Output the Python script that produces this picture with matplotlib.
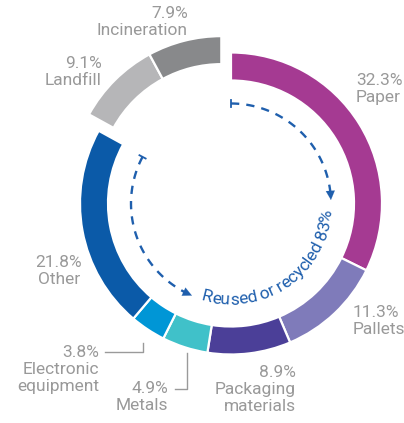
import numpy as np
import matplotlib
matplotlib.use("Agg")
import matplotlib.pyplot as plt

# ---- data ----
categories = ["Paper", "Pallets", "Packaging\nmaterials", "Metals", "Electronic\nequipment",
              "Other", "Landfill", "Incineration"]
values = [32.3, 11.3, 8.9, 4.9, 3.8, 21.8, 9.1, 7.9]
pct_labels = ["32.3%", "11.3%", "8.9%", "4.9%", "3.8%", "21.8%", "9.1%", "7.9%"]
colors = ["#A53A92", "#7F7BBA", "#4B3F98", "#40C1C9", "#0096D6", "#0B5AA8", "#B6B6B8", "#88898B"]
recycled_total = 83
recycled_text = "Reused or recycled 83%"

W, H = 404, 423
fig = plt.figure(figsize=(W / 100, H / 100), dpi=100)
ax = fig.add_axes([0, 0, 1, 1])

FONT = ["Roboto", "DejaVu Sans"]
WEIGHT = "normal"
GRAY = "#999999"
BLUE = "#1F5FAD"

cx, cy = 231, H - 203.5
R_out, ring_w = 151, 28

wedges, _ = ax.pie(values, colors=colors, startangle=90, counterclock=False,
                   center=(cx, cy), radius=R_out,
                   wedgeprops=dict(width=ring_w, edgecolor="white", linewidth=1.6))

# shift the non-recycled group (landfill + incineration) outward together
total = sum(values)
start_grp = 360 * sum(values[:6]) / total
mid_grp = np.deg2rad((start_grp + 360) / 2)   # clockwise from top
d = 19
dx, dy = d * np.sin(mid_grp), d * np.cos(mid_grp)
for w in wedges[6:]:
    w.set_center((cx + dx, cy + dy))

ax.set_xlim(0, W)
ax.set_ylim(0, H)
ax.set_aspect("equal")
ax.axis("off")


def pt(a_deg, r):
    a = np.deg2rad(a_deg)
    return cx + r * np.sin(a), cy + r * np.cos(a)


# ---- dashed arcs ----
r_arc = 100
end_rec = 360 * recycled_total / 100


def dashed_arc(a0, a1):
    a = np.linspace(a0, a1, 120)
    xs, ys = pt(a, r_arc)
    ax.plot(xs[:-3], ys[:-3], color=BLUE, lw=1.7, dashes=(3.5, 3.0), solid_capstyle="butt")
    ax.annotate("", xy=(xs[-1], ys[-1]), xytext=(xs[-6], ys[-6]),
                arrowprops=dict(arrowstyle="-|>,head_length=0.65,head_width=0.32",
                                color=BLUE, lw=0.1, shrinkA=0, shrinkB=0))
    # start tick (radial)
    x0, y0 = pt(a0, r_arc - 3.5)
    x1, y1 = pt(a0, r_arc + 3.5)
    ax.plot([x0, x1], [y0, y1], color=BLUE, lw=1.3)


dashed_arc(0, 88)
dashed_arc(end_rec - 1, 203)

# ---- curved text ----
fs_curve = 12.5
renderer = fig.canvas.get_renderer()


def text_w(s):
    if not s:
        return 0.0
    t = ax.text(0, 0, s.replace(" ", "\u00a0"), fontsize=fs_curve, family=FONT, fontweight=WEIGHT)
    w = t.get_window_extent(renderer).width
    t.remove()
    return w


cum = [text_w(recycled_text[:i]) for i in range(len(recycled_text) + 1)]
tot_w = cum[-1]
r_base = 101
theta_mid = np.deg2rad(90 - 145.5)
for i, ch in enumerate(recycled_text):
    if ch == " ":
        continue
    s = (cum[i] + cum[i + 1]) / 2 - tot_w / 2
    th = theta_mid + s / r_base
    x = cx + r_base * np.cos(th)
    y = cy + r_base * np.sin(th)
    ax.text(x, y, ch, fontsize=fs_curve, family=FONT, fontweight=WEIGHT, color=BLUE,
            rotation=np.rad2deg(th) + 90, rotation_mode="anchor", ha="center", va="baseline")

# ---- labels ----
lab_kw = dict(fontsize=12.5, family=FONT, fontweight=WEIGHT, color=GRAY, linespacing=1.15)


def label(i, x, y, ha):
    ax.text(x, H - y, pct_labels[i] + "\n" + categories[i], ha=ha, va="top",
            multialignment=ha, **lab_kw)


label(0, 356, 73, "left")       # Paper
label(1, 353, 305, "left")      # Pallets
label(2, 296, 365, "right")     # Packaging
label(3, 168, 381, "right")     # Metals
label(4, 99, 345, "right")      # Electronic
label(5, 59, 255, "center")     # Other
label(6, 102, 56, "right")      # Landfill
label(7, 188, 6, "right")       # Incineration

# leader lines
lc = dict(color="#9A9A9A", lw=1.0)
ax.plot([105, 143, 143], [H - 352, H - 352, H - 343], **lc)
ax.plot([175, 187, 187], [H - 389, H - 389, H - 353], **lc)

fig.savefig("out.png", dpi=100)
